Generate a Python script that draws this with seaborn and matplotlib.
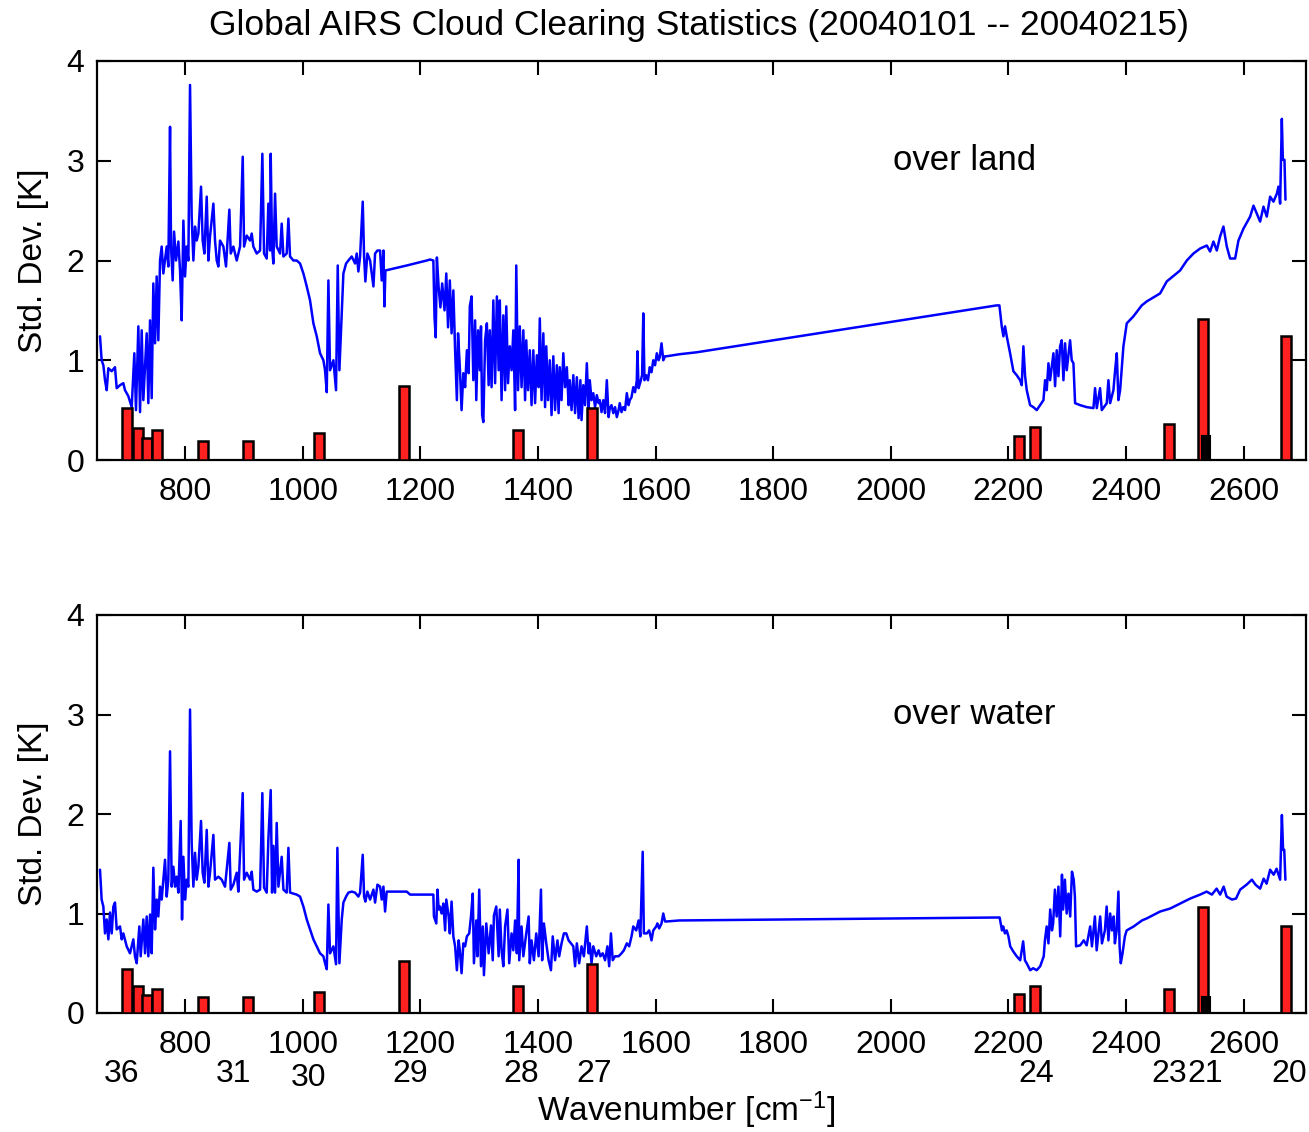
import matplotlib
matplotlib.use('Agg')
import matplotlib.pyplot as plt
import matplotlib.transforms as mtransforms
import seaborn as sns

# AIRS spectrum std. dev. over land
land_wn = [
    655.1, 657.9, 660.8, 663.6, 666.5, 669.3, 675.0, 680.6, 683.5, 689.1,
    694.8, 697.6, 703.3, 709.0, 713.5, 716.3, 720.3, 723.2, 726.0, 728.8,
    734.5, 737.3, 740.2, 743.0, 745.8, 748.7, 751.5, 754.3, 757.2, 760.0,
    762.8, 768.5, 771.3, 774.2, 775.9, 778.7, 781.0, 784.4, 788.4, 791.2,
    794.0, 796.9, 799.7, 802.5, 805.4, 808.2, 811.0, 813.9, 816.7, 819.5,
    822.4, 826.9, 829.7, 832.6, 836.6, 839.4, 842.2, 847.9, 850.7, 853.6,
    856.4, 859.2, 864.9, 869.4, 875.1, 877.4, 881.9, 887.6, 893.3, 897.8,
    900.1, 904.6, 910.3, 913.1, 915.9, 921.6, 927.3, 931.2, 934.1, 938.6,
    941.4, 944.3, 945.4, 947.7, 949.9, 952.8, 955.6, 961.3, 964.1, 967.0,
    972.6, 975.5, 978.3, 984.0, 989.6, 995.3, 1001.0, 1006.7, 1012.3, 1018.0,
    1023.7, 1029.3, 1035.0, 1037.8, 1040.7, 1043.5, 1046.3, 1052.0, 1056.5, 1059.4,
    1062.2, 1066.2, 1069.0, 1073.6, 1077.5, 1083.2, 1088.9, 1091.7, 1094.5, 1097.4,
    1101.9, 1104.2, 1106.4, 1109.8, 1114.4, 1117.2, 1120.1, 1122.9, 1126.9, 1131.4,
    1134.2, 1137.1, 1138.8, 1140.5, 1176.8, 1210.8, 1216.4,
    1222, 1224, 1226, 1228, 1231, 1234, 1237, 1241, 1244, 1247,
    1250, 1253, 1256, 1259, 1262, 1264, 1267, 1270, 1273, 1276,
    1279, 1282, 1284, 1287, 1290, 1293, 1295, 1298, 1301, 1303,
    1305, 1307, 1310, 1313, 1316, 1318, 1321, 1324, 1327, 1330,
    1333, 1335, 1338, 1341, 1344, 1346, 1349, 1352, 1355, 1358,
    1361, 1363, 1366, 1369, 1372, 1375, 1378, 1380, 1383, 1386,
    1389, 1392, 1395, 1398, 1401, 1403, 1406, 1409, 1412, 1414,
    1417, 1420, 1423, 1426, 1429, 1432, 1435, 1437, 1440, 1443,
    1446, 1449, 1452, 1454, 1457, 1460, 1463, 1466, 1469, 1472,
    1474, 1477, 1480, 1483, 1486, 1488, 1491, 1494, 1497, 1500,
    1503, 1505, 1508, 1511, 1514, 1517, 1520, 1522, 1525, 1528,
    1531, 1534, 1537, 1539, 1542, 1545, 1548, 1551, 1554, 1556,
    1559, 1562, 1565, 1568, 1569, 1571, 1574, 1577, 1579, 1581,
    1584, 1587, 1590, 1593, 1596, 1599, 1602, 1605, 1607, 1610,
    1613, 1616, 1619, 1640, 1670,
    2180, 2184.6, 2188.6, 2191.4, 2194.2, 2197.1, 2202.8, 2208.4, 2214.1, 2219.8,
    2222.6, 2225.4, 2228.3, 2231.1, 2236.8, 2242.4, 2248.1, 2253.8, 2259.5, 2262.3,
    2265.1, 2268.0, 2270.8, 2276.5, 2279.3, 2282.1, 2285.0, 2287.8, 2290.6, 2293.5,
    2296.3, 2299.1, 2304.8, 2307.6, 2310.5, 2313.3, 2321.8, 2333.2, 2344.5, 2347.3,
    2350.2, 2355.8, 2358.7, 2367.2, 2370.0, 2372.9, 2378.5, 2381.4, 2384.2, 2387.0,
    2389.9, 2395.5, 2401.2, 2412.5, 2426.7, 2435.2, 2457.9, 2469.2, 2491.9, 2503.3,
    2514.6, 2525.9, 2537.3, 2542.9, 2548.6, 2554.3, 2559.9, 2565.6, 2571.3, 2576.9,
    2585.5, 2591.1, 2599.7, 2611.0, 2616.7, 2622.3, 2628.0, 2633.7, 2639.3, 2645.0,
    2650.7, 2656.4, 2659.2, 2662.0, 2664.9, 2666.6, 2669.4, 2671.1,
]
land_sd = [
    1.24, 1.00, 0.95, 0.80, 0.70, 0.92, 0.89, 0.93, 0.72, 0.75,
    0.77, 0.70, 0.64, 0.53, 1.07, 0.50, 1.34, 0.48, 1.30, 0.60,
    1.27, 0.57, 1.40, 0.62, 1.77, 1.17, 1.84, 1.20, 2.00, 2.14,
    1.87, 2.14, 1.94, 3.34, 2.14, 1.80, 2.29, 2.00, 2.19, 1.90,
    1.40, 2.40, 1.84, 2.14, 2.00, 3.76, 2.44, 2.00, 2.34, 2.20,
    2.27, 2.74, 2.20, 2.07, 2.64, 2.00, 2.24, 2.57, 2.20, 2.00,
    1.94, 2.20, 2.14, 1.94, 2.51, 2.07, 2.14, 2.00, 2.14, 3.04,
    2.14, 2.25, 2.20, 2.27, 2.14, 2.07, 2.10, 3.07, 2.07, 2.02,
    2.57, 2.10, 3.07, 2.14, 1.97, 2.67, 2.14, 2.07, 2.37, 2.04,
    2.07, 2.42, 2.04, 2.00, 2.00, 1.97, 1.87, 1.74, 1.60, 1.37,
    1.24, 1.07, 1.00, 0.90, 0.68, 1.80, 0.90, 1.00, 0.70, 1.95,
    0.90, 1.47, 1.87, 1.97, 2.00, 2.04, 1.97, 2.07, 1.89, 2.04,
    2.59, 2.04, 1.79, 2.07, 2.00, 1.87, 1.74, 2.07, 2.10, 2.10,
    1.80, 2.10, 1.54, 1.90, 1.95, 2.00, 2.01,
    2.00, 1.43, 1.23, 2.03, 1.73, 1.53, 1.77, 1.50, 1.87, 1.33,
    1.80, 1.27, 1.70, 1.10, 0.60, 1.27, 0.93, 0.50, 0.87, 0.73,
    1.10, 0.87, 1.54, 1.64, 0.80, 1.40, 0.60, 1.30, 0.90, 1.34,
    0.45, 0.38, 1.20, 1.37, 0.75, 1.30, 0.73, 1.60, 0.77, 1.64,
    0.90, 1.60, 0.60, 1.45, 0.70, 1.54, 0.77, 1.14, 0.90, 1.30,
    0.50, 1.95, 0.70, 1.34, 0.73, 1.30, 0.60, 1.20, 0.70, 1.10,
    0.55, 1.10, 0.57, 1.05, 0.73, 1.42, 0.60, 1.27, 0.53, 1.14,
    0.60, 1.00, 0.45, 1.04, 0.50, 0.95, 0.47, 0.93, 0.60, 1.07,
    0.73, 0.93, 0.55, 0.80, 0.50, 0.85, 0.47, 0.83, 0.42, 0.80,
    0.40, 0.75, 0.55, 0.97, 0.50, 0.80, 0.60, 0.67, 0.53, 0.65,
    0.57, 0.60, 0.48, 0.60, 0.47, 0.80, 0.43, 0.52, 0.55, 0.47,
    0.53, 0.43, 0.50, 0.57, 0.48, 0.53, 0.50, 0.67, 0.55, 0.60,
    0.63, 0.73, 0.68, 0.80, 1.09, 0.72, 0.78, 0.85, 1.47, 0.80,
    0.85, 0.80, 0.93, 0.88, 1.00, 0.95, 1.07, 1.00, 1.03, 1.17,
    1.00, 1.04, 1.04, 1.06, 1.08,
    1.55, 1.55, 1.34, 1.24, 1.34, 1.24, 1.07, 0.89, 0.85, 0.80,
    0.75, 1.14, 0.84, 0.70, 0.55, 0.53, 0.50, 0.55, 0.60, 0.80,
    0.70, 0.97, 0.80, 1.07, 0.74, 1.10, 0.84, 1.14, 1.20, 0.80,
    1.17, 0.90, 1.20, 1.00, 0.97, 0.57, 0.55, 0.53, 0.52, 0.72,
    0.52, 0.72, 0.50, 0.57, 0.80, 0.57, 0.70, 0.90, 1.07, 0.60,
    0.70, 1.14, 1.37, 1.44, 1.55, 1.59, 1.67, 1.79, 1.90, 2.00,
    2.07, 2.12, 2.15, 2.09, 2.19, 2.10, 2.24, 2.34, 2.14, 2.02,
    2.02, 2.20, 2.32, 2.44, 2.55, 2.47, 2.39, 2.54, 2.44, 2.64,
    2.59, 2.67, 2.74, 2.57, 3.42, 3.01, 3.01, 2.61,
]

# AIRS spectrum std. dev. over water
water_wn = [
    655.1, 657.9, 660.8, 663.6, 666.5, 669.3, 672.1, 675.0, 677.8, 680.6,
    683.5, 689.1, 692.0, 694.8, 700.5, 706.1, 711.8, 714.6, 717.5, 722.0,
    724.3, 728.8, 731.7, 734.5, 737.3, 740.2, 743.0, 745.8, 748.7, 751.5,
    754.3, 757.2, 760.0, 765.7, 768.5, 771.3, 774.2, 777.0, 779.9, 782.7,
    785.5, 788.4, 792.3, 794.6, 796.9, 799.7, 802.5, 805.4, 808.2, 811.0,
    813.9, 816.7, 819.5, 822.4, 826.9, 829.7, 832.6, 836.6, 839.4, 842.2,
    847.9, 850.7, 856.4, 862.1, 867.7, 875.1, 877.4, 881.9, 887.6, 890.4,
    897.8, 900.1, 904.6, 910.3, 913.1, 915.9, 921.6, 927.3, 931.2, 934.1,
    938.6, 941.4, 945.4, 947.7, 949.9, 952.8, 955.6, 958.5, 964.1, 967.0,
    972.6, 975.5, 978.3, 989.6, 995.3, 1001.0, 1006.7, 1012.3, 1018.0, 1023.7,
    1029.3, 1035.0, 1037.8, 1040.7, 1043.5, 1046.3, 1052.0, 1056.5, 1058.8, 1062.2,
    1066.2, 1069.0, 1073.6, 1077.5, 1083.2, 1088.9, 1094.5, 1097.4, 1101.9, 1104.2,
    1106.4, 1109.8, 1114.4, 1120.1, 1122.9, 1126.9, 1131.4, 1134.2, 1137.1, 1139.9,
    1142.7, 1176.8, 1182.4, 1199.0,
    1222, 1223, 1227, 1229, 1231, 1233, 1236, 1239, 1242, 1244,
    1248, 1250, 1253, 1256, 1259, 1262, 1265, 1267, 1270, 1273,
    1276, 1279, 1283, 1286, 1289, 1291, 1295, 1297, 1300, 1303,
    1306, 1308, 1312, 1316, 1320, 1323, 1325, 1329, 1333, 1335,
    1338, 1341, 1344, 1348, 1351, 1355, 1358, 1361, 1364, 1367,
    1368, 1372, 1375, 1380, 1384, 1386, 1389, 1393, 1397, 1401,
    1405, 1407, 1410, 1414, 1418, 1422, 1425, 1429, 1433, 1436,
    1440, 1444, 1448, 1452, 1456, 1460, 1463, 1466, 1470, 1474,
    1478, 1483, 1486, 1488, 1491, 1494, 1499, 1503, 1506, 1510,
    1514, 1518, 1521, 1524, 1527, 1531, 1537, 1542, 1546, 1551,
    1555, 1559, 1562, 1567, 1571, 1574, 1578, 1580, 1585, 1589,
    1593, 1596, 1601, 1603, 1606, 1610, 1613, 1616, 1619, 1640,
    2185, 2189, 2191, 2194, 2197, 2200, 2203, 2208, 2214, 2220,
    2225, 2228, 2231, 2237, 2242, 2248, 2254, 2260, 2262, 2265,
    2268, 2271, 2274, 2276, 2279, 2282, 2285, 2288, 2291, 2293,
    2296, 2299, 2302, 2305, 2308, 2311, 2313, 2315, 2322, 2328,
    2333, 2339, 2342, 2347, 2350, 2356, 2359, 2364, 2367, 2370,
    2373, 2376, 2379, 2381, 2384, 2387, 2389, 2391, 2394, 2398,
    2401, 2413, 2427, 2435, 2458, 2475, 2492, 2509, 2526, 2537,
    2546, 2554, 2560, 2566, 2571, 2580, 2587, 2594, 2605, 2614,
    2620, 2628, 2634, 2639, 2645, 2651, 2656, 2662, 2665, 2667,
    2669, 2671,
]
water_sd = [
    1.44, 1.14, 1.07, 0.80, 0.94, 0.74, 1.01, 0.80, 1.07, 1.11,
    0.84, 0.87, 0.74, 0.80, 0.67, 0.60, 0.74, 0.57, 0.50, 0.87,
    0.57, 0.94, 0.60, 0.97, 0.57, 0.99, 0.60, 1.46, 0.84, 1.14,
    0.97, 1.27, 1.14, 1.54, 1.17, 1.34, 2.63, 1.27, 1.47, 1.27,
    1.37, 1.21, 1.93, 0.94, 1.57, 1.14, 1.34, 1.27, 3.05, 1.71,
    1.27, 1.61, 1.34, 1.47, 1.93, 1.41, 1.31, 1.84, 1.27, 1.41,
    1.79, 1.34, 1.37, 1.34, 1.27, 1.71, 1.24, 1.29, 1.41, 1.22,
    2.21, 1.34, 1.41, 1.34, 1.42, 1.24, 1.22, 1.24, 2.21, 1.26,
    1.21, 1.74, 2.24, 1.21, 1.68, 1.21, 1.91, 1.27, 1.57, 1.24,
    1.21, 1.66, 1.21, 1.19, 1.17, 1.07, 0.94, 0.84, 0.74, 0.67,
    0.60, 0.57, 0.50, 0.44, 1.09, 0.60, 0.67, 0.49, 1.66, 0.50,
    0.94, 1.11, 1.17, 1.21, 1.22, 1.21, 1.17, 1.21, 1.59, 1.17,
    1.12, 1.22, 1.14, 1.24, 1.11, 1.29, 1.27, 1.14, 1.27, 1.02,
    1.22, 1.22, 1.19, 1.19,
    1.19, 0.97, 0.90, 1.24, 1.04, 1.07, 1.00, 1.10, 0.83, 1.14,
    0.97, 0.80, 1.12, 0.77, 0.67, 0.43, 0.73, 0.63, 0.40, 0.70,
    0.67, 0.77, 0.80, 0.97, 1.20, 0.50, 0.93, 0.57, 1.24, 0.47,
    0.87, 0.38, 0.90, 0.60, 0.88, 0.53, 0.98, 1.07, 0.57, 1.04,
    0.63, 0.47, 0.87, 1.04, 0.50, 0.80, 0.63, 0.93, 0.60, 1.54,
    0.53, 0.87, 0.57, 0.80, 0.97, 0.50, 0.73, 0.53, 0.80, 0.57,
    1.24, 0.53, 0.90, 0.70, 0.53, 0.43, 0.77, 0.53, 0.73, 0.57,
    0.70, 0.80, 0.80, 0.73, 0.70, 0.67, 0.47, 0.70, 0.50, 0.67,
    0.57, 0.87, 0.60, 0.70, 0.50, 0.67, 0.57, 0.63, 0.57, 0.60,
    0.53, 0.67, 0.47, 0.80, 0.53, 0.57, 0.57, 0.60, 0.63, 0.70,
    0.67, 0.77, 0.87, 0.83, 0.93, 0.77, 1.62, 0.80, 0.80, 0.83,
    0.73, 0.83, 0.87, 0.90, 0.85, 0.90, 1.00, 0.92, 0.92, 0.93,
    0.96, 0.83, 0.87, 0.80, 0.83, 0.77, 0.67, 0.62, 0.57, 0.53,
    0.72, 0.53, 0.50, 0.43, 0.45, 0.43, 0.47, 0.57, 0.73, 0.87,
    0.70, 1.04, 0.83, 0.90, 1.24, 0.97, 1.27, 0.77, 1.39, 1.04,
    1.34, 1.00, 1.20, 0.97, 1.42, 1.34, 1.17, 0.67, 0.68, 0.73,
    0.68, 0.87, 0.67, 0.97, 0.63, 0.97, 0.70, 0.83, 1.07, 0.73,
    1.00, 0.83, 0.97, 0.70, 0.83, 1.22, 0.67, 0.50, 0.60, 0.77,
    0.83, 0.87, 0.93, 0.95, 1.02, 1.05, 1.10, 1.15, 1.19, 1.22,
    1.19, 1.25, 1.19, 1.27, 1.17, 1.14, 1.15, 1.24, 1.29, 1.34,
    1.29, 1.25, 1.35, 1.30, 1.44, 1.39, 1.45, 1.34, 1.99, 1.64,
    1.64, 1.34,
]

# MODIS band bars
modis_wn = [701, 720, 735, 752, 830, 907, 1027, 1172, 1366, 1492, 2218, 2245, 2473, 2531, 2672]
modis_land = [0.52, 0.32, 0.22, 0.30, 0.19, 0.19, 0.27, 0.74, 0.30, 0.52, 0.24, 0.33, 0.36, 1.41, 1.24]
modis_water = [0.44, 0.27, 0.18, 0.24, 0.16, 0.16, 0.21, 0.52, 0.27, 0.49, 0.19, 0.27, 0.24, 1.07, 0.87]
band21_wn = [2536]
band21_land = [0.24]
band21_water = [0.16]

band_labels = ['36', '31', '30', '29', '28', '27', '24', '23', '21', '20']
band_label_wn = [692, 883, 1010, 1183, 1371, 1496, 2247, 2474, 2535, 2678]
xtick_vals = [800, 1000, 1200, 1400, 1600, 1800, 2000, 2200, 2400, 2600]
ytick_vals = [0, 1, 2, 3, 4]

sns.set_style('ticks')
plt.rcParams['font.family'] = ['Liberation Sans', 'DejaVu Sans']
plt.rcParams['mathtext.fontset'] = 'custom'
plt.rcParams['mathtext.rm'] = 'Liberation Sans'
plt.rcParams['mathtext.it'] = 'Liberation Sans'
plt.rcParams['text.color'] = 'black'
plt.rcParams['axes.labelcolor'] = 'black'
plt.rcParams['xtick.color'] = 'black'
plt.rcParams['ytick.color'] = 'black'

W, H = 1309, 1132
fig = plt.figure(figsize=(W / 100, H / 100), dpi=100)
ax1 = fig.add_axes([97 / W, 1 - 460 / H, 1209 / W, 399 / H])
ax2 = fig.add_axes([97 / W, 1 - 1013 / H, 1209 / W, 398 / H])


def draw_panel(ax, wn, sd, bars, b21, label):
    sns.lineplot(x=wn, y=sd, ax=ax, color='#0000ff', linewidth=1.8,
                 estimator=None, sort=False, zorder=2)
    ax.bar(modis_wn, bars, width=17, color='#ff2020', edgecolor='black',
           linewidth=1.8, zorder=3)
    ax.bar(band21_wn, b21, width=13, color='black', edgecolor='black',
           linewidth=1.5, zorder=4)
    ax.set_xlim(650, 2706)
    ax.set_ylim(0, 4)
    ax.set_xticks(xtick_vals)
    ax.set_yticks(ytick_vals)
    ax.tick_params(direction='in', top=True, right=True, length=10, width=1.5,
                   labelsize=23, colors='black')
    ax.tick_params(axis='x', pad=12)
    ax.tick_params(axis='y', pad=9)
    for sp in ax.spines.values():
        sp.set_linewidth(1.6)
        sp.set_color('black')
    ax.set_xlabel('')
    ax.set_ylabel('Std. Dev. [K]', fontsize=24, color='black')
    ax.yaxis.set_label_coords(-0.040, 0.5)
    ax.text(2004, 3.0, label, fontsize=25, va='center', ha='left', color='black')


draw_panel(ax1, land_wn, land_sd, modis_land, band21_land, 'over land')
draw_panel(ax2, water_wn, water_sd, modis_water, band21_water, 'over water')

# MODIS band numbers under the lower panel
trans = mtransforms.blended_transform_factory(ax2.transData, ax2.transAxes)
for lab, xw in zip(band_labels, band_label_wn):
    yy = -0.163 if lab == '30' else -0.153
    ax2.text(xw, yy, lab, transform=trans, fontsize=23, ha='center', va='center')

fig.text(686 / W, 1 - 1110 / H, 'Wavenumber [cm$^{-1}$]', fontsize=24,
         ha='center', va='center')
fig.text(699 / W, 1 - 25 / H,
         'Global AIRS Cloud Clearing Statistics (20040101 -- 20040215)',
         fontsize=25.5, ha='center', va='center')

fig.savefig('out.png', dpi=100, facecolor='white')
